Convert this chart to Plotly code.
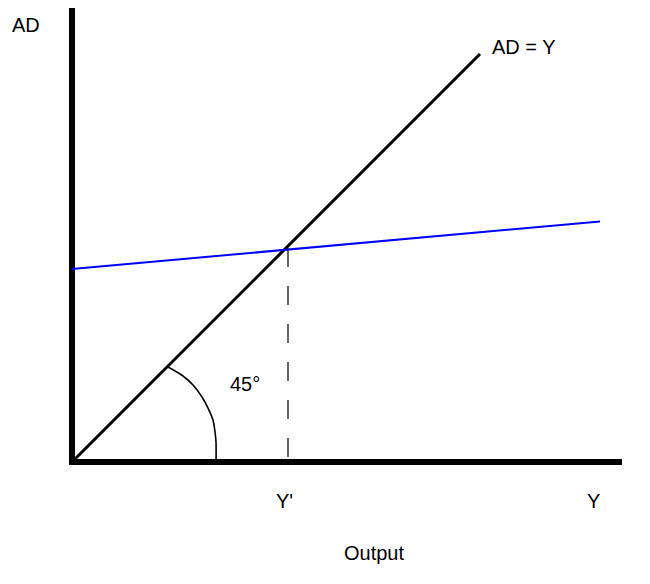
import plotly.graph_objects as go

# ---- data (economic diagram units; origin = where the axes meet) ----
axis_x = [0, 0, 550]
axis_y = [456, 0, 0]

line45_x = [0, 408]
line45_y = [0, 408]

ad_x = [0, 528]
ad_y = [193, 240.5]

ystar_x = [216, 216]
ystar_y = [214, 0]

arc_x = [96, 111, 121, 130, 136, 141, 143, 144, 144]
arc_y = [95, 86, 77, 65, 54, 42, 30, 20, 0]

label_text = ["AD", "AD = Y", "45°", "Y'", "Y", "Output"]
label_x = [-46, 418, 172.5, 212, 521.5, 302]
label_y = [437, 415, 78, -39, -39, -91]
label_anchor = ["center", "left", "center", "center", "center", "center"]

fig = go.Figure()
fig.add_trace(go.Scatter(x=axis_x, y=axis_y, mode="lines",
                         line=dict(color="black", width=6), hoverinfo="skip"))
fig.add_trace(go.Scatter(x=line45_x, y=line45_y, mode="lines",
                         line=dict(color="black", width=3), hoverinfo="skip"))
fig.add_trace(go.Scatter(x=ad_x, y=ad_y, mode="lines",
                         line=dict(color="#0000ff", width=2), hoverinfo="skip"))
fig.add_trace(go.Scatter(x=ystar_x, y=ystar_y, mode="lines",
                         line=dict(color="black", width=1.2, dash="19px,19px"),
                         hoverinfo="skip"))
fig.add_trace(go.Scatter(x=arc_x, y=arc_y, mode="lines",
                         line=dict(color="black", width=1.6, shape="spline"),
                         hoverinfo="skip"))

for t, x, y, a in zip(label_text, label_x, label_y, label_anchor):
    fig.add_annotation(x=x, y=y, text=t, showarrow=False, xanchor=a,
                       yanchor="middle",
                       font=dict(family="Liberation Sans, Arial, sans-serif",
                                 size=20, color="black"))

fig.update_layout(
    width=642, height=576,
    margin=dict(l=0, r=0, t=0, b=0),
    paper_bgcolor="white", plot_bgcolor="white",
    showlegend=False,
    xaxis=dict(range=[-64, 578], visible=False, fixedrange=True),
    yaxis=dict(range=[-122, 454], visible=False, fixedrange=True),
)

fig.write_html("out.html")
